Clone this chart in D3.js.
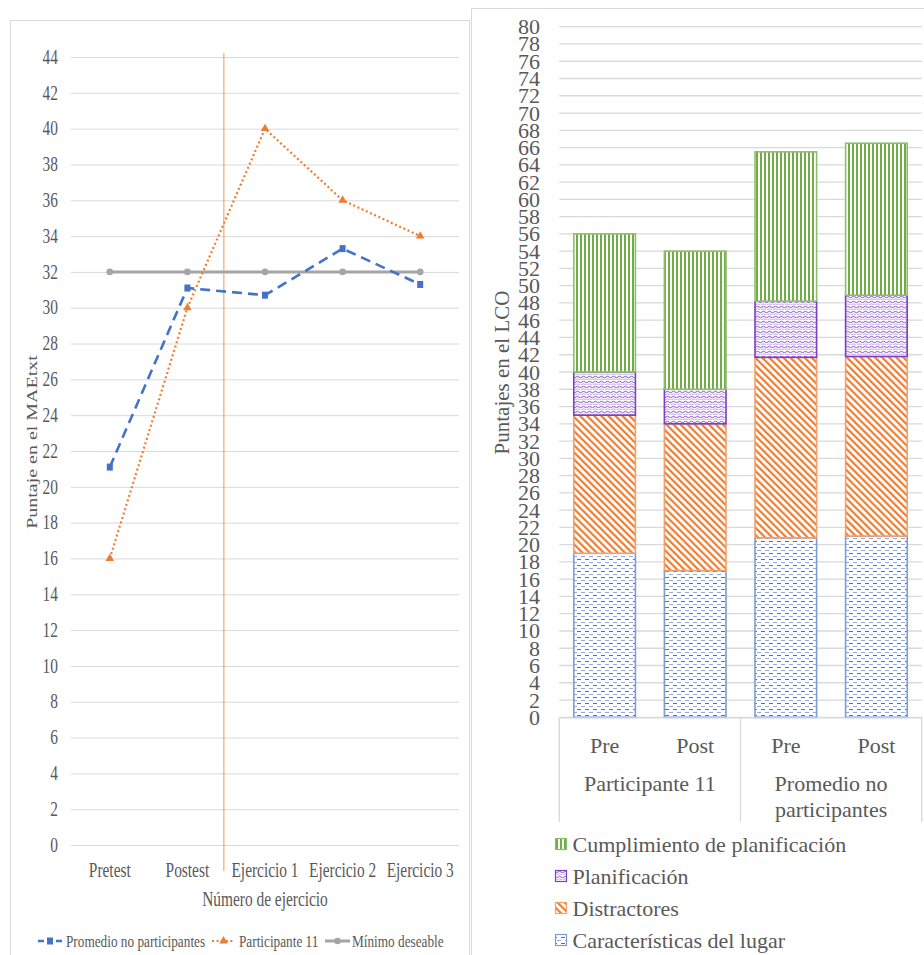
<!DOCTYPE html>
<html><head><meta charset="utf-8">
<script src="https://cdn.jsdelivr.net/npm/d3@7"></script>
<style>
html,body{margin:0;padding:0;background:#fff;}
svg{display:block;font-family:"Liberation Serif","Times New Roman",serif;}
</style></head>
<body>
<svg id="c" width="924" height="955"></svg>
<script>
// ---------- DATA: left line chart ----------
const lineCategories = ["Pretest","Postest","Ejercicio 1","Ejercicio 2","Ejercicio 3"];
const promedioNoParticipantes = [21.1,31.1,30.7,33.3,31.3];
const participante11 = [16,30,40,36,34];
const minimoDeseable = [32,32,32,32,32];
const lineTicks = [0,2,4,6,8,10,12,14,16,18,20,22,24,26,28,30,32,34,36,38,40,42,44];
const lineSeriesNames = ["Promedio no participantes","Participante 11","Mínimo deseable"];
const dividerPosition = 1.47; // between Postest and Ejercicio 1 (category index units)

// ---------- DATA: right stacked bar chart ----------
const barKeys = ["P11-Pre","P11-Post","Prom-Pre","Prom-Post"];
const barPhases = ["Pre","Post","Pre","Post"];
const barGroups = [["Participante 11"],["Promedio no","participantes"]];
const caracteristicasLugar = [19,17,20.8,21.0];
const distractores = [16,17,20.9,20.8];
const planificacion = [5,4,6.5,7.1];
const cumplimientoPlanificacion = [16,16,17.3,17.6];
const barSeriesNames = ["Características del lugar","Distractores","Planificación","Cumplimiento de planificación"];
const barTicks = d3.range(0,81,2);

const svg = d3.select("#c");
const TXT = "#595959", GRID = "#D9D9D9";
const BLUE = "#4472C4", ORANGE = "#ED7D31", GRAY = "#A5A5A5", GREEN = "#70AD47", PURPLE = "#7B3FBF";

// ---------- patterns ----------
const defs = svg.append("defs");
{
  const p = defs.append("pattern").attr("id","pGreen").attr("patternUnits","userSpaceOnUse").attr("width",4).attr("height",4);
  p.append("rect").attr("width",4).attr("height",4).attr("fill","#fff");
  p.append("rect").attr("x",0).attr("width",2).attr("height",4).attr("fill",GREEN);
}
{
  const p = defs.append("pattern").attr("id","pOrange").attr("patternUnits","userSpaceOnUse").attr("width",5).attr("height",5).attr("patternTransform","rotate(-45)");
  p.append("rect").attr("width",5).attr("height",5).attr("fill","#fff");
  p.append("rect").attr("x",0).attr("width",2.2).attr("height",5).attr("fill",ORANGE);
}
{
  const p = defs.append("pattern").attr("id","pPurple").attr("patternUnits","userSpaceOnUse").attr("width",6).attr("height",5);
  p.append("rect").attr("width",6).attr("height",5).attr("fill","#fff");
  p.append("path").attr("d","M0,2 Q1.5,0.5 3,2 T6,2").attr("fill","none").attr("stroke",PURPLE).attr("stroke-width",0.9);
  p.append("path").attr("d","M0,4.5 Q1.5,3 3,4.5 T6,4.5").attr("fill","none").attr("stroke","#B898DC").attr("stroke-width",0.9);
}
{
  const p = defs.append("pattern").attr("id","pBlue").attr("patternUnits","userSpaceOnUse").attr("width",8).attr("height",6);
  p.append("rect").attr("width",8).attr("height",6).attr("fill","#fff");
  p.append("rect").attr("x",1).attr("y",1).attr("width",4).attr("height",1).attr("fill",BLUE);
  p.append("rect").attr("x",5).attr("y",4).attr("width",4).attr("height",1).attr("fill","#8FAADC");
  p.append("rect").attr("x",-3).attr("y",4).attr("width",4).attr("height",1).attr("fill","#8FAADC");
}

// ================= LEFT CHART =================
const SX = 0.77;
svg.append("rect").attr("x",10.5).attr("y",20.5).attr("width",459).attr("height",940).attr("fill","#fff").attr("stroke",GRID);

const xL = d3.scalePoint().domain(lineCategories).range([71,459]).padding(0.5);
const yL = d3.scaleLinear().domain([0,44]).range([845,57]);
const gL = svg.append("g");

function ctext(g,x,y,str,size,anchor,sx){
  return g.append("text").attr("transform",`translate(${x},${y}) scale(${sx},1)`)
    .attr("text-anchor",anchor).attr("dominant-baseline","central")
    .attr("font-size",size).attr("fill",TXT).text(str);
}

gL.selectAll("line.grid").data(lineTicks).join("line").attr("class","grid")
  .attr("x1",71).attr("x2",459).attr("y1",d=>yL(d)+0.5).attr("y2",d=>yL(d)+0.5)
  .attr("stroke",GRID).attr("stroke-width",1);
lineTicks.forEach(t=>ctext(gL,58,yL(t),String(t),20,"end",SX));
lineCategories.forEach(c=>ctext(gL,xL(c),870,c,20,"middle",SX));
ctext(gL,265,899,"Número de ejercicio",20,"middle",SX);
gL.append("text").attr("transform",`translate(32,442) scale(${SX},1) rotate(-90)`)
  .attr("text-anchor","middle").attr("dominant-baseline","central").attr("font-size",20).attr("fill",TXT)
  .text("Puntaje en el MAEtxt");

// divider line
const step = xL.step();
const xDiv = xL(lineCategories[0]) + dividerPosition*step;
gL.append("line").attr("x1",xDiv).attr("x2",xDiv).attr("y1",53).attr("y2",871).attr("stroke",ORANGE).attr("stroke-width",1).attr("opacity",0.8);

const lineGen = d3.line().x((d,i)=>xL(lineCategories[i])).y(d=>yL(d));
// gray minimum
gL.append("path").attr("d",lineGen(minimoDeseable)).attr("fill","none").attr("stroke",GRAY).attr("stroke-width",3);
gL.selectAll("circle.min").data(minimoDeseable).join("circle").attr("class","min")
  .attr("cx",(d,i)=>xL(lineCategories[i])).attr("cy",d=>yL(d)).attr("r",3.3).attr("fill",GRAY);
// orange participant
gL.append("path").attr("d",lineGen(participante11)).attr("fill","none").attr("stroke",ORANGE).attr("stroke-width",2.2).attr("stroke-dasharray","2,2.6");
const tri = d3.symbol().type(d3.symbolTriangle).size(32);
gL.selectAll("path.tri").data(participante11).join("path").attr("class","tri")
  .attr("d",tri).attr("transform",(d,i)=>`translate(${xL(lineCategories[i])},${yL(d)})`).attr("fill",ORANGE);
// blue average
gL.append("path").attr("d",lineGen(promedioNoParticipantes)).attr("fill","none").attr("stroke",BLUE).attr("stroke-width",2.6).attr("stroke-dasharray","10,6");
gL.selectAll("rect.sq").data(promedioNoParticipantes).join("rect").attr("class","sq")
  .attr("x",(d,i)=>xL(lineCategories[i])-3).attr("y",d=>yL(d)-3.5).attr("width",6).attr("height",7).attr("fill",BLUE);

// left legend
const lgY = 941;
const lg = gL.append("g");
// item 1
lg.append("line").attr("x1",38).attr("x2",62).attr("y1",lgY).attr("y2",lgY).attr("stroke",BLUE).attr("stroke-width",2.6).attr("stroke-dasharray","6,3");
lg.append("rect").attr("x",47).attr("y",lgY-3.5).attr("width",6).attr("height",7).attr("fill",BLUE);
ctext(lg,66,lgY,lineSeriesNames[0],17,"start",0.78);
// item 2
lg.append("line").attr("x1",212).attr("x2",235).attr("y1",lgY).attr("y2",lgY).attr("stroke",ORANGE).attr("stroke-width",2).attr("stroke-dasharray","2,2.6");
lg.append("path").attr("d",tri).attr("transform",`translate(223.5,${lgY})`).attr("fill",ORANGE);
ctext(lg,239,lgY,lineSeriesNames[1],17,"start",0.78);
// item 3
lg.append("line").attr("x1",325).attr("x2",350).attr("y1",lgY).attr("y2",lgY).attr("stroke",GRAY).attr("stroke-width",3);
lg.append("circle").attr("cx",337.5).attr("cy",lgY).attr("r",3.3).attr("fill",GRAY);
ctext(lg,352,lgY,lineSeriesNames[2],17,"start",0.78);

// ================= RIGHT CHART =================
svg.append("rect").attr("x",471.5).attr("y",8.5).attr("width",460).attr("height",960).attr("fill","#fff").attr("stroke",GRID);
const gR = svg.append("g");
const xR = d3.scaleBand().domain(barKeys).range([559.3,921.7]).paddingInner(0.32).paddingOuter(0.16);
const yR = d3.scaleLinear().domain([0,80]).range([717.3,26.7]);

gR.selectAll("line.grid").data(barTicks).join("line").attr("class","grid")
  .attr("x1",559.3).attr("x2",921.7).attr("y1",d=>yR(d)).attr("y2",d=>yR(d))
  .attr("stroke",GRID).attr("stroke-width",1.3);
barTicks.forEach(t=>ctext(gR,540,yR(t),String(t),22,"end",1));
gR.append("text").attr("transform","translate(501.7,372.5) rotate(-90)")
  .attr("text-anchor","middle").attr("dominant-baseline","central").attr("font-size",21).attr("fill",TXT)
  .text("Puntajes en el LCO");

// stacked bars
const seriesVals = [caracteristicasLugar, distractores, planificacion, cumplimientoPlanificacion];
const fills = ["url(#pBlue)","url(#pOrange)","url(#pPurple)","url(#pGreen)"];
const strokes = ["#7C9CD8", "#F4A06A", PURPLE, "#8DBF6A"];
const table = barKeys.map((k,i)=>({key:k, s0:seriesVals[0][i], s1:seriesVals[1][i], s2:seriesVals[2][i], s3:seriesVals[3][i]}));
const stack = d3.stack().keys(["s0","s1","s2","s3"])(table);
stack.forEach((layer,li)=>{
  gR.selectAll(`rect.l${li}`).data(layer).join("rect").attr("class",`l${li}`)
    .attr("x",d=>xR(d.data.key)).attr("width",xR.bandwidth())
    .attr("y",d=>yR(d[1])).attr("height",d=>yR(d[0])-yR(d[1]))
    .attr("fill",fills[li]).attr("stroke",strokes[li]).attr("stroke-width",1.6);
});

// category axis (two-level)
const axL = 559.3, axR = 921.7, axMid = (xR(barKeys[1])+xR.bandwidth()+xR(barKeys[2]))/2;
gR.append("line").attr("x1",axL).attr("x2",axR).attr("y1",717.8).attr("y2",717.8).attr("stroke",GRID).attr("stroke-width",1.3);
[axL, axMid, axR].forEach(x=>gR.append("line").attr("x1",x).attr("x2",x).attr("y1",717.8).attr("y2",822).attr("stroke",GRID).attr("stroke-width",1.3));
barKeys.forEach((k,i)=>ctext(gR,xR(k)+xR.bandwidth()/2,745,barPhases[i],22,"middle",1));
const grpCenters = [(axL+axMid)/2, (axMid+axR)/2];
barGroups.forEach((lines,gi)=>{
  lines.forEach((ln,li)=>ctext(gR,grpCenters[gi],783+li*26,ln,22,"middle",1));
});

// right legend
const legOrder = [3,2,1,0];
const legY = [844,876,908,940];
legOrder.forEach((si,idx)=>{
  gR.append("rect").attr("x",555.5).attr("y",legY[idx]-5.5).attr("width",11).attr("height",11)
    .attr("fill",fills[si]).attr("stroke",strokes[si]).attr("stroke-width",1.2);
  ctext(gR,572.5,legY[idx],barSeriesNames[si],22,"start",1);
});
</script>
</body></html>
